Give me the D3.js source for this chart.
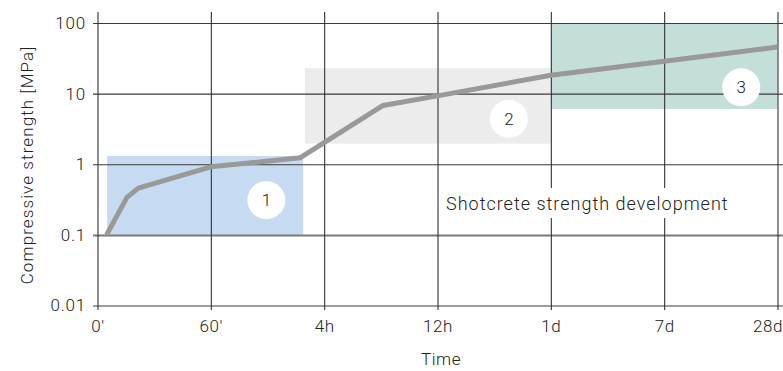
<!DOCTYPE html>
<html>
<head>
<meta charset="utf-8">
<script src="https://cdn.jsdelivr.net/npm/d3@7"></script>
<style>
  body { margin: 0; background: #fff; }
  svg text { font-family: Roboto, "Open Sans", sans-serif; font-weight: 300; fill: #222; }
</style>
</head>
<body>
<svg id="chart" width="783" height="371"></svg>
<script>
// time axis is evenly spaced categories, so x values are category index
var timeLabels = ["0\u2032", "60\u2032", "4h", "12h", "1d", "7d", "28d"];
var strengthTicks = [0.01, 0.1, 1, 10, 100];
var strengthLabels = ["0.01", "0.1", "1", "10", "100"];

// strength curve
var curveTime = [0.08, 0.26, 0.36, 1.0, 1.79, 2.52, 3.0, 4.0, 5.0, 6.0];
var curveStrength = [0.1, 0.34, 0.46, 0.92, 1.24, 6.8, 9.3, 18.2, 28.8, 45.8];

// phase boxes: [timeFrom, timeTo, strengthLow, strengthHigh]
var phaseNames = ["1", "2", "3"];
var phaseBoxes = [[0.085, 1.815, 0.1, 1.31], [1.83, 4.0, 1.96, 22.9], [4.0, 6.0, 6.07, 100]];
var phaseColors = ["#c6dbf2", "#ececec", "#c4dfd9"];
// label circle positions [time, strength]
var phaseBadges = [[1.49, 0.31], [3.63, 4.4], [5.68, 12.3]];

var svg = d3.select("#chart");

var x = d3.scaleLinear().domain([0, 6]).range([97.5, 777.5]);
var y = d3.scaleLog().domain([0.01, 100]).range([305.5, 23]);

//boxes
svg.append("g")
  .selectAll("rect")
  .data(phaseBoxes)
  .enter()
  .append("rect")
    .attr("x", d => x(d[0]))
    .attr("y", d => y(d[3]))
    .attr("width", d => x(d[1]) - x(d[0]))
    .attr("height", d => y(d[2]) - y(d[3]))
    .attr("fill", (d, i) => phaseColors[i]);

//y axis with gridlines
var yAxis = svg.append("g")
  .attr("transform", "translate(93,0)")
  .call(d3.axisLeft(y)
    .tickValues(strengthTicks)
    .tickFormat((d, i) => strengthLabels[i])
    .tickSizeInner(-(783 - 93))
    .tickSizeOuter(0)
    .tickPadding(7));
yAxis.select(".domain").remove();
yAxis.selectAll("line").attr("stroke", "#3a3a3a").attr("stroke-width", 1.2);
yAxis.selectAll(".tick").filter(d => d === 0.1).select("line")
  .attr("stroke", "#7a7a7a").attr("stroke-width", 2);
yAxis.selectAll("text").style("font-size", "17px").style("letter-spacing", "0.8px").attr("fill", "#222");

//x axis with gridlines
var xAxis = svg.append("g")
  .attr("transform", "translate(0,310)")
  .call(d3.axisBottom(x)
    .tickValues(d3.range(timeLabels.length))
    .tickFormat(i => timeLabels[i])
    .tickSizeInner(-(310 - 12))
    .tickSizeOuter(0)
    .tickPadding(10));
xAxis.select(".domain").remove();
xAxis.selectAll("line").attr("stroke", "#333").attr("stroke-width", 1.1);
xAxis.selectAll("text").style("font-size", "17px").style("letter-spacing", "0.6px").attr("fill", "#222");
xAxis.selectAll(".tick").filter(d => d === 6).select("text").attr("text-anchor", "end").attr("dx", "5");

//caption with white backing
var caption = svg.append("g");
var capText = caption.append("text")
  .attr("x", x(3.075))
  .attr("y", 210)
  .style("font-size", "18px")
  .style("letter-spacing", "1px")
  .text("Shotcrete strength development");
var bb = capText.node().getBBox();
caption.insert("rect", "text")
  .attr("x", bb.x - 5)
  .attr("y", 188)
  .attr("width", bb.width + 8)
  .attr("height", 30)
  .attr("fill", "#fff");

//curve
var line = d3.line()
  .x(d => x(d[0]))
  .y(d => y(d[1]));
svg.append("path")
  .datum(d3.zip(curveTime, curveStrength))
  .attr("d", line)
  .attr("fill", "none")
  .attr("stroke", "#999")
  .attr("stroke-width", 5)
  .attr("stroke-linejoin", "round");

//badges
var badge = svg.append("g")
  .selectAll("g")
  .data(phaseBadges)
  .enter()
  .append("g")
    .attr("transform", d => `translate(${x(d[0])},${y(d[1])})`);
badge.append("circle").attr("r", 19).attr("fill", "#fff");
badge.append("text")
  .attr("text-anchor", "middle")
  .attr("dy", "0.36em")
  .style("font-size", "17px")
  .text((d, i) => phaseNames[i]);

//axis titles
svg.append("text")
  .attr("x", 441)
  .attr("y", 365)
  .attr("text-anchor", "middle")
  .style("font-size", "17px")
  .style("letter-spacing", "0.6px")
  .text("Time");

svg.append("text")
  .attr("transform", "translate(33,165) rotate(-90)")
  .attr("text-anchor", "middle")
  .style("font-size", "17px")
  .style("letter-spacing", "1.1px")
  .text("Compressive strength [MPa]");
</script>
</body>
</html>
